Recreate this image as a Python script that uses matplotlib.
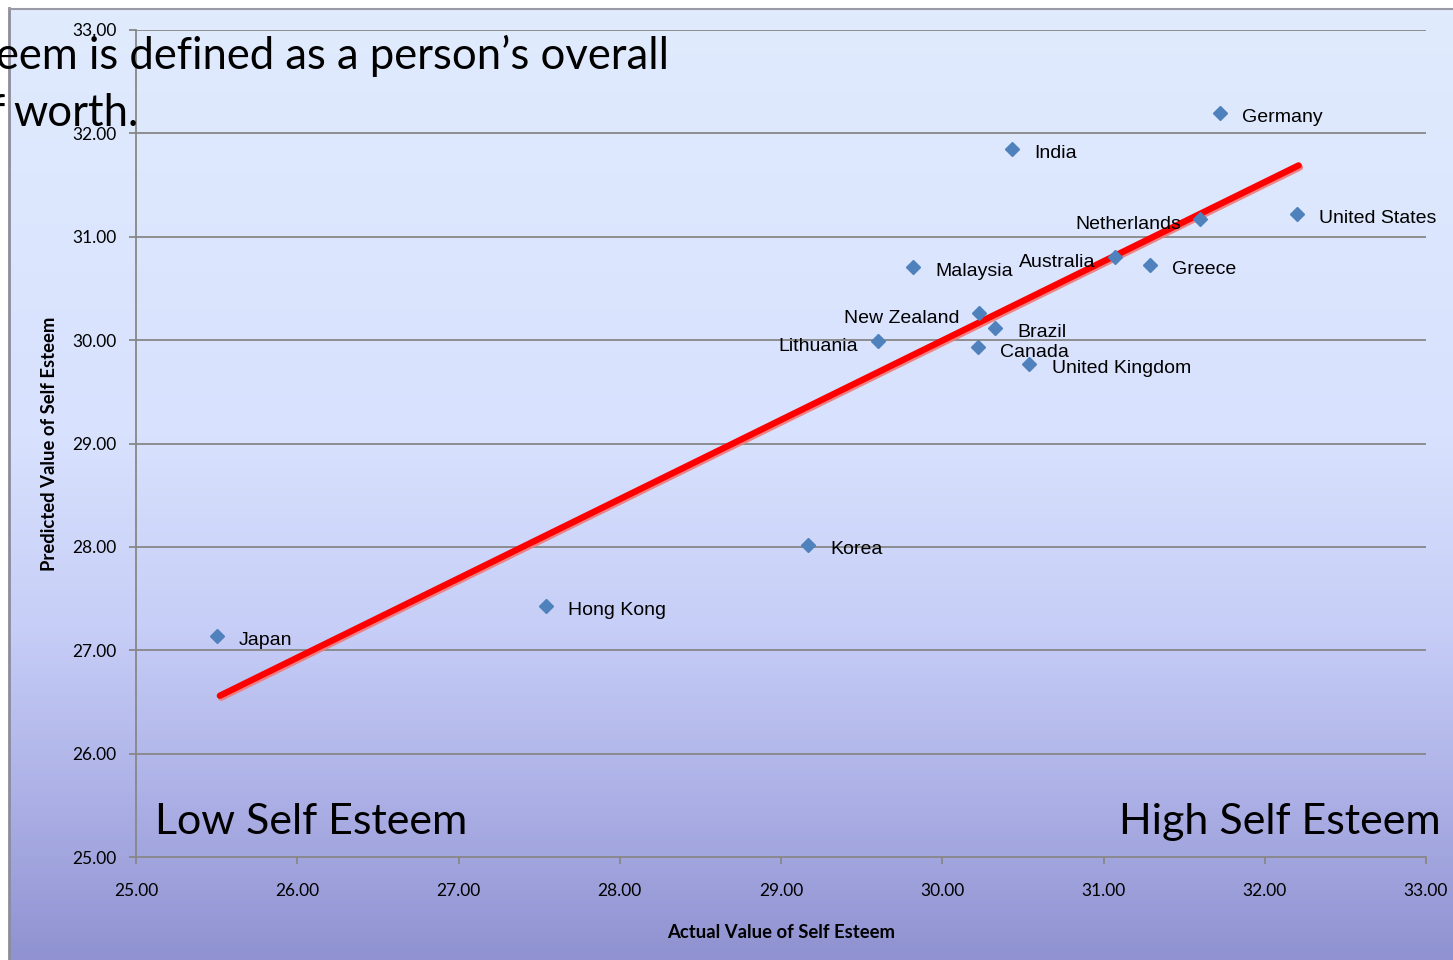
"""
Scatter of actual vs predicted self esteem per country, slide style.
"""

import numpy as np
import matplotlib
matplotlib.use("Agg")
import matplotlib.pyplot as plt
import matplotlib.patheffects as pe
from matplotlib.colors import LinearSegmentedColormap
from matplotlib.lines import Line2D

# Data
countries = ["Japan", "Hong Kong", "Korea", "Lithuania", "Malaysia",
             "New Zealand", "Canada", "Brazil", "United Kingdom", "India",
             "Australia", "Greece", "Netherlands", "Germany", "United States"]
actual = [25.50, 27.54, 29.17, 29.60, 29.82,
          30.23, 30.22, 30.33, 30.54, 30.43,
          31.07, 31.29, 31.60, 31.72, 32.20]
predicted = [27.14, 27.43, 28.02, 29.99, 30.71,
             30.26, 29.93, 30.12, 29.77, 31.85,
             30.80, 30.73, 31.17, 32.20, 31.22]
fit_x = [25.52, 32.21]
fit_y = [26.56, 31.69]
ticks = [25, 26, 27, 28, 29, 30, 31, 32, 33]
labels_left = {"Lithuania", "New Zealand", "Australia", "Netherlands"}

W, H = 1453, 960
fig = plt.figure(figsize=(W / 100, H / 100), dpi=100)
fig.patch.set_facecolor("white")

# Gradient chart area behind everything
bg = fig.add_axes([10 / W, 0, 1 - 10 / W, 1 - 9 / H], zorder=0)
grad_cmap = LinearSegmentedColormap.from_list(
    "slide", [(0.0, "#E0EBFD"), (0.45, "#D8E1FD"), (0.65, "#C7CEF7"),
              (0.82, "#AEB2E7"), (1.0, "#9092D1")])
bg.imshow(np.linspace(0, 1, 256).reshape(-1, 1), aspect="auto",
          cmap=grad_cmap, extent=[0, 1, 0, 1], origin="upper")
bg.set_axis_off()

# Frame edges of the chart area
fig.add_artist(Line2D([9 / W, 9 / W], [0, 1 - 8 / H], color="#8C8C9C",
                      lw=2.0, transform=fig.transFigure))
fig.add_artist(Line2D([9 / W, 1], [1 - 8.5 / H, 1 - 8.5 / H],
                      color="#9A9AA6", lw=1.5, transform=fig.transFigure))

ax = fig.add_axes([136 / W, (H - 857) / H, 1290 / W, 827 / H], zorder=1)
ax.patch.set_alpha(0)

grid_col = "#878787"
for t in ticks[1:]:
    ax.axhline(t, color=grid_col, lw=1.3, zorder=1)

ax.plot(fit_x, fit_y, color="#FF0000", lw=4.6, solid_capstyle="round",
        zorder=3,
        path_effects=[pe.SimpleLineShadow(offset=(1.0, -1.4),
                                          shadow_color="#F07878", alpha=0.9),
                      pe.Normal()])
ax.plot(actual, predicted, linestyle="none", marker="D", markersize=7.5,
        color="#4F81BD", zorder=4)

for name, xv, yv in zip(countries, actual, predicted):
    if name in labels_left:
        off, ha = (-14, -3.5), "right"
    else:
        off, ha = (16, -3.5), "left"
    ax.annotate(name, (xv, yv), xytext=off, textcoords="offset points",
                ha=ha, va="center", fontsize=14, family="Liberation Sans",
                color="black", zorder=5)

ax.set_xlim(25, 33)
ax.set_ylim(25, 33)
ax.set_xticks(ticks)
ax.set_yticks(ticks)
ax.set_xticklabels(["%.2f" % t for t in ticks])
ax.set_yticklabels(["%.2f" % t for t in ticks])
for side in ["top", "right"]:
    ax.spines[side].set_visible(False)
for side in ["left", "bottom"]:
    ax.spines[side].set_color(grid_col)
    ax.spines[side].set_linewidth(1.3)
ax.tick_params(axis="both", colors=grid_col, width=1.3, length=5,
               labelcolor="black", labelsize=12.5)
ax.tick_params(axis="x", pad=14)
ax.tick_params(axis="y", pad=9)
for lab in ax.get_xticklabels() + ax.get_yticklabels():
    lab.set_family("Lato")

ax.set_xlabel("Actual Value of Self Esteem", fontsize=13.3,
              fontweight="bold", family="Lato", labelpad=18)
ax.set_ylabel("Predicted Value of Self Esteem", fontsize=13.3,
              fontweight="bold", family="Lato", labelpad=10)

# Slide text overlaid on the chart
big = 31.4
fig.text(-4 / W, 1 - 56 / H, "eem is defined as a person\u2019s overall",
         fontsize=big, family="Lato", ha="left", va="center", zorder=10)
fig.text(13 / W, 1 - 114 / H, "worth.", fontsize=big, family="Lato",
         ha="left", va="center", zorder=10)
fig.text(5 / W, 1 - 114 / H, "f", fontsize=big, family="Lato",
         ha="right", va="center", zorder=10)
fig.text(155 / W, 1 - 822 / H, "Low Self Esteem", fontsize=31,
         family="Lato", ha="left", va="center", zorder=10)
fig.text(1441 / W, 1 - 822 / H, "High Self Esteem", fontsize=31,
         family="Lato", ha="right", va="center", zorder=10)

fig.savefig("out.png", dpi=100)
